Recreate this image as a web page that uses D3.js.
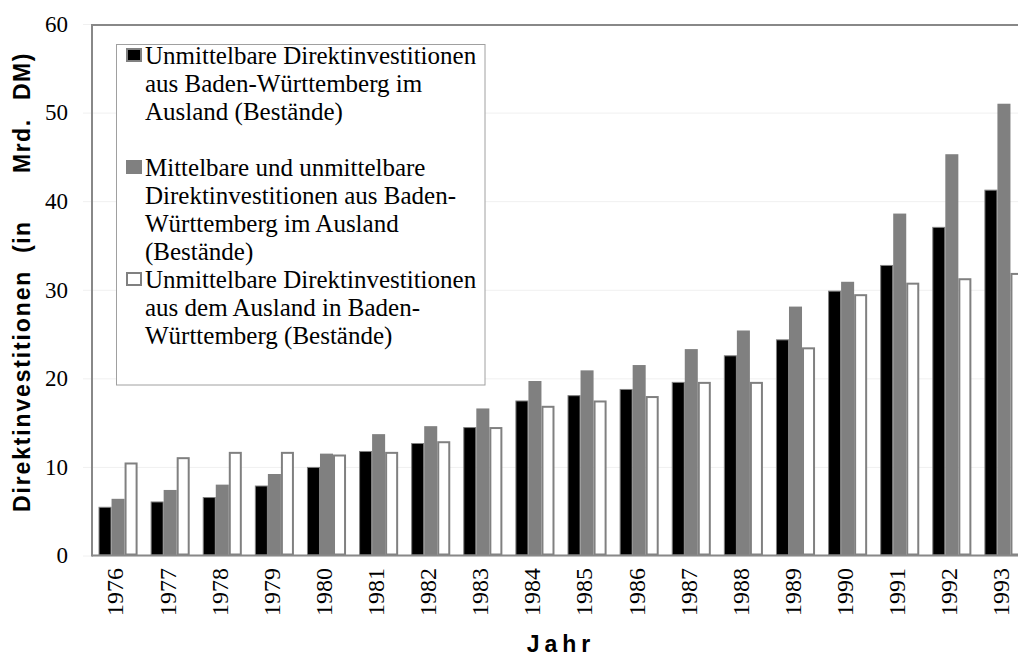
<!DOCTYPE html>
<html>
<head>
<meta charset="utf-8">
<script src="https://cdn.jsdelivr.net/npm/d3@7"></script>
<style>
  body { margin: 0; background: #fff; }
  svg { display: block; }
  svg text { font-family: "Liberation Serif", "Times New Roman", serif; }
  svg text.title { font-family: "Liberation Sans", Arial, sans-serif; font-weight: bold; }
</style>
</head>
<body>
<div id="chart"></div>
<script>
var years = ["1976","1977","1978","1979","1980","1981","1982","1983","1984","1985","1986","1987","1988","1989","1990","1991","1992","1993"];

// Unmittelbare Direktinvestitionen aus BW im Ausland (schwarz)
var unmittelbarAus = [5.5, 6.1, 6.6, 7.9, 10.0, 11.8, 12.7, 14.5, 17.5, 18.1, 18.8, 19.6, 22.6, 24.4, 29.9, 32.8, 37.1, 41.3];
// Mittelbare und unmittelbare (grau)
var mittelbarAus = [6.4, 7.4, 8.0, 9.2, 11.5, 13.7, 14.6, 16.6, 19.7, 20.9, 21.5, 23.3, 25.4, 28.1, 30.9, 38.6, 45.3, 51.0];
// aus dem Ausland in BW (weiss)
var ausAusland = [10.5, 11.1, 11.7, 11.7, 11.4, 11.7, 12.9, 14.5, 16.9, 17.5, 18.0, 19.6, 19.6, 23.5, 29.5, 30.8, 31.3, 31.9];

var yTicks = [0, 10, 20, 30, 40, 50, 60];

var legendLines = [
  ["Unmittelbare Direktinvestitionen", "aus Baden-Württemberg im", "Ausland (Bestände)"],
  ["Mittelbare und unmittelbare", "Direktinvestitionen aus Baden-", "Württemberg im Ausland", "(Bestände)"],
  ["Unmittelbare Direktinvestitionen", "aus dem Ausland in Baden-", "Württemberg (Bestände)"]
];

var yTitleWords = ["Direktinvestitionen", "(in", "Mrd.", "DM)"];

var width = 1018,
  height = 657;

var svg = d3.select("#chart")
  .append("svg")
  .attr("width", width)
  .attr("height", height)

var plotLeft = 92, plotRight = 1030, plotTop = 24, plotBottom = 555.5;

var x = d3.scaleBand().domain(years).range([plotLeft, plotRight]).padding(0)
var inner = d3.scaleBand().domain([0, 1, 2])
  .range([x.bandwidth() * 0.125, x.bandwidth() * 0.875])
var y = d3.scaleLinear().domain([0, 60]).range([plotBottom, plotTop])

// faint gridlines + y labels
var yAxis = svg.append("g")
  .attr("transform", "translate(83,0)")
  .call(d3.axisLeft(y).tickValues(yTicks).tickSize(-(plotRight - 83)).tickPadding(15))
  .attr("font-size", 23)
yAxis.select(".domain").remove()
yAxis.selectAll("line").attr("stroke", "#f0f0f0")
yAxis.selectAll("text").attr("fill", "#000")

// frame
svg.append("line").attr("x1", plotLeft).attr("x2", width).attr("y1", plotTop + 1).attr("y2", plotTop + 1)
  .attr("stroke", "#888").attr("stroke-width", 2)
svg.append("line").attr("x1", plotLeft).attr("x2", plotLeft).attr("y1", plotTop).attr("y2", plotBottom + 1)
  .attr("stroke", "#888").attr("stroke-width", 2)

var series = [
  { values: unmittelbarAus, fill: "#000000", stroke: "#808080", sw: 1 },
  { values: mittelbarAus, fill: "#808080", stroke: "none", sw: 0 },
  { values: ausAusland, fill: "#ffffff", stroke: "#808080", sw: 2 }
]

series.forEach(function(s, si) {
  svg.append("g").selectAll("rect")
    .data(s.values)
    .enter().append("rect")
    .attr("x", function(d, i) { return x(years[i]) + inner(si) + s.sw / 2 })
    .attr("y", function(d) { return y(d) + s.sw / 2 })
    .attr("width", inner.bandwidth() - s.sw)
    .attr("height", function(d) { return Math.max(0, y(0) - y(d) - s.sw) })
    .attr("fill", s.fill)
    .attr("stroke", s.stroke)
    .attr("stroke-width", s.sw)
})

// x axis
var xAxis = svg.append("g")
  .attr("transform", "translate(0," + plotBottom + ")")
  .call(d3.axisBottom(x).tickSize(0).tickPadding(0))
  .attr("font-size", 24)
xAxis.select(".domain").attr("stroke", "#888").attr("stroke-width", 2)
  .attr("d", "M" + plotLeft + ",0H" + plotRight)
xAxis.selectAll(".tick text")
  .attr("transform", "translate(-3,12.5) rotate(-90)")
  .attr("x", 0)
  .attr("y", 0)
  .attr("dy", "0.35em")
  .attr("text-anchor", "end")
  .attr("fill", "#000")

// legend
var legend = svg.append("g")
legend.append("rect")
  .attr("x", 116.5).attr("y", 44.5).attr("width", 368.5).attr("height", 340.5)
  .attr("fill", "#fff").attr("stroke", "#a0a0a0").attr("stroke-width", 1)

var firstBaseline = [64, 176, 288]
legendLines.forEach(function(lines, li) {
  var s = series[li]
  legend.append("rect")
    .attr("x", 127).attr("y", firstBaseline[li] - 15)
    .attr("width", 14).attr("height", 12)
    .attr("fill", s.fill)
    .attr("stroke", "#808080")
    .attr("stroke-width", 2)
  legend.selectAll(".l" + li)
    .data(lines)
    .enter().append("text")
    .attr("x", 145)
    .attr("y", function(d, i) { return firstBaseline[li] + i * 28 })
    .text(function(d) { return d })
    .attr("font-size", 25)
    .attr("fill", "#000")
})

// axis titles (words spread out like the original)
var wordStart = [512, 253, 173, 100]
svg.append("g").selectAll("text")
  .data(yTitleWords)
  .enter().append("text")
  .attr("class", "title")
  .attr("transform", function(d, i) { return "translate(30," + wordStart[i] + ") rotate(-90)" })
  .attr("text-anchor", "start")
  .attr("font-size", 23)
  .attr("letter-spacing", function(d, i) { return i === 0 ? 1.85 : 1.5 })
  .attr("fill", "#000")
  .text(function(d) { return d })

svg.append("text")
  .attr("class", "title")
  .attr("x", 561)
  .attr("y", 652)
  .attr("text-anchor", "middle")
  .attr("font-size", 23)
  .attr("letter-spacing", 5)
  .attr("fill", "#000")
  .text("Jahr")
</script>
</body>
</html>
